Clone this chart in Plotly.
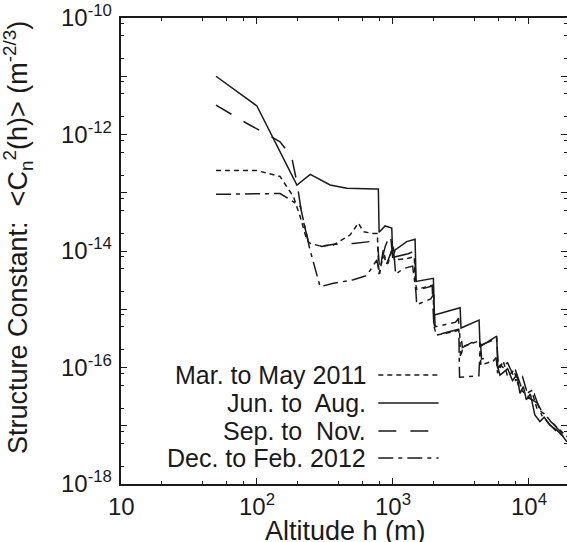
import math
import plotly.graph_objects as go

# ---------------- data ----------------
# Jun. to Aug. (solid)
x_jun = [50, 100, 197, 247, 346, 459, 741, 783, 793, 878, 983, 1000, 1040, 1267, 1459, 1484,
         1990, 2024, 3128, 3179, 4314, 4387, 5821, 5916, 6150, 7000, 7600, 8200, 8630, 9140,
         9600, 10300, 11100, 12100, 13000, 14300, 16000, 17500, 19100]
y_jun = [1.0e-11, 3.1e-12, 1.36e-13, 2.07e-13, 1.36e-13, 1.19e-13, 1.16e-13, 1.16e-13, 2.1e-14,
         2.69e-14, 2.48e-14, 7.6e-15, 1.04e-14, 1.45e-14, 1.59e-14, 3.0e-15, 3.4e-15, 8.0e-16,
         1.06e-15, 4.76e-16, 6.53e-16, 2.29e-16, 3.47e-16, 1.02e-16, 7.4e-17, 9.5e-17, 6.0e-17,
         7.5e-17, 3.6e-17, 4.7e-17, 2.8e-17, 3.5e-17, 1.53e-17, 1.18e-17, 1.4e-17, 1.03e-17,
         8.5e-18, 7.0e-18, 5.3e-18]

# Mar. to May 2011 (short dash)
x_mar = [50, 100, 148, 186, 208, 233, 247, 292, 366, 485, 558, 608, 720, 770, 790, 850, 920,
         1000, 1030, 1300, 1440, 1460, 1500, 1700, 1980, 2010, 2100, 2900, 3100, 3150, 3300,
         4200, 4350, 4450, 5500, 5800, 5900, 6500, 7000, 7800, 8500, 9500, 10500, 11500, 13000,
         14500, 16500, 19100]
y_mar = [2.4e-13, 2.4e-13, 1.9e-13, 8.5e-14, 3.9e-14, 1.55e-14, 1.35e-14, 1.22e-14, 1.27e-14,
         1.88e-14, 3.03e-14, 2.14e-14, 2.0e-14, 2.0e-14, 4.0e-15, 8.0e-15, 6.0e-15, 1.2e-14,
         7.0e-15, 7.5e-15, 8.0e-15, 3.0e-15, 2.2e-15, 2.4e-15, 2.6e-15, 5.0e-16, 3.6e-16,
         4.2e-16, 4.5e-16, 1.5e-16, 2.3e-16, 2.8e-16, 2.9e-16, 1.1e-16, 1.3e-16, 1.5e-16,
         8.0e-17, 1.3e-16, 7.0e-17, 9.0e-17, 4.5e-17, 3.5e-17, 4.0e-17, 2.0e-17, 1.6e-17,
         1.2e-17, 9.0e-18, 6.5e-18]

# Sep. to Nov. (long dash)
x_sep = [50, 84, 115, 148, 180, 197, 215, 240, 300, 366, 513, 720, 770, 800, 880, 960, 1010,
         1050, 1300, 1450, 1480, 1600, 1950, 2000, 2100, 3000, 3150, 3250, 4200, 4400, 4500,
         5700, 5900, 6200, 7200, 8000, 9000, 10000, 11500, 13000, 15000, 17000, 19100]
y_sep = [3.2e-12, 1.56e-12, 1.05e-12, 7.5e-13, 4.2e-13, 1.5e-13, 4.0e-14, 1.4e-14, 1.2e-14,
         1.3e-14, 1.35e-14, 1.5e-14, 1.5e-14, 5.0e-15, 1.2e-14, 2.0e-14, 6.0e-15, 8.0e-15,
         9.0e-15, 1.0e-14, 2.5e-15, 2.2e-15, 2.5e-15, 6.0e-16, 3.6e-16, 4.5e-16, 4.6e-16,
         2.2e-16, 3.0e-16, 3.2e-16, 1.4e-16, 1.6e-16, 1.0e-16, 1.1e-16, 8.0e-17, 9.0e-17,
         4.0e-17, 3.0e-17, 2.5e-17, 1.5e-17, 1.1e-17, 8.0e-18, 6.0e-18]

# Dec. to Feb. 2012 (dash-dot)
x_dec = [50, 148, 186, 209, 246, 292, 366, 513, 644, 763, 800, 850, 900, 1010, 1050, 1200,
         1400, 1480, 1500, 1900, 2000, 2050, 2900, 3050, 3100, 4000, 4300, 4400, 5600, 5800,
         6000, 7000, 8000, 9000, 10000, 11000, 12500, 14000, 16000, 19100]
y_dec = [9.4e-14, 9.7e-14, 7.0e-14, 5.75e-14, 1.04e-14, 2.44e-15, 2.8e-15, 3.2e-15, 3.8e-15,
         7.0e-15, 4.0e-15, 1.04e-14, 6.0e-15, 1.19e-14, 4.0e-15, 5.0e-15, 5.5e-15, 2.0e-15,
         1.2e-15, 1.5e-15, 1.8e-15, 5.0e-16, 6.0e-16, 7.0e-16, 6.8e-17, 7.0e-17, 7.2e-17,
         2.4e-16, 3.0e-16, 3.2e-16, 1.0e-16, 1.2e-16, 6.0e-17, 7.0e-17, 3.0e-17, 3.5e-17,
         1.5e-17, 1.1e-17, 8.0e-18, 6.0e-18]

series_names = ["Mar. to May 2011", "Jun. to  Aug.", "Sep. to  Nov.", "Dec. to Feb. 2012"]
series_x = [x_mar, x_jun, x_sep, x_dec]
series_y = [y_mar, y_jun, y_sep, y_dec]
series_dash = ["5px,4px", "solid", "18px,14px", "15px,5px,4px,5px"]

x_tick_vals = [10, 100, 1000, 10000]
x_tick_text = ["10", "10<sup>2</sup>", "10<sup>3</sup>", "10<sup>4</sup>"]
y_label_vals = [1e-18, 1e-16, 1e-14, 1e-12, 1e-10]
y_label_text = ["10<sup>-18</sup>", "10<sup>-16</sup>", "10<sup>-14</sup>",
                "10<sup>-12</sup>", "10<sup>-10</sup>"]
y_major_vals = [1e-18, 1e-17, 1e-16, 1e-15, 1e-14, 1e-13, 1e-12, 1e-11, 1e-10]

x_title = "Altitude h (m)"
y_title = "Structure Constant:  &lt;C<sub>n</sub><sup>2</sup>(h)&gt; (m<sup>-2/3</sup>)"

# ---------------- figure ----------------
FONT = "Liberation Sans, Arial, sans-serif"
INK = "#1a1a1a"

fig = go.Figure()
for name, xs, ys, dash in zip(series_names, series_x, series_y, series_dash):
    fig.add_trace(go.Scatter(x=xs, y=ys, mode="lines", name=name,
                             line=dict(color=INK, width=1.5, dash=dash),
                             showlegend=False))

x_minor = [m * 10 ** e for e in range(1, 5) for m in (2, 4, 6, 8)]
y_minor = [m * 10.0 ** e for e in range(-18, -10) for m in (2, 5, 8)]

fig.update_xaxes(type="log", range=[1, 4.282], automargin=False,
                 tickmode="array", tickvals=x_tick_vals, showticklabels=False,
                 ticks="inside", ticklen=6, tickwidth=1.2, tickcolor=INK,
                 minor=dict(tickmode="array", tickvals=x_minor, ticks="inside",
                            ticklen=3, tickwidth=1.2, tickcolor=INK),
                 showline=True, linecolor=INK, linewidth=1.8, mirror="ticks",
                 showgrid=False, zeroline=False)
fig.update_yaxes(type="log", range=[-18, -10], automargin=False,
                 tickmode="array", tickvals=y_major_vals, showticklabels=False,
                 ticks="inside", ticklen=6, tickwidth=1.2, tickcolor=INK,
                 minor=dict(tickmode="array", tickvals=y_minor, ticks="inside",
                            ticklen=3, tickwidth=1.2, tickcolor=INK),
                 showline=True, linecolor=INK, linewidth=1.8, mirror="ticks",
                 showgrid=False, zeroline=False)

TICKFONT = dict(family=FONT, size=24, color=INK)
for v, t in zip(x_tick_vals, x_tick_text):
    fig.add_annotation(xref="x", yref="paper", x=math.log10(v), y=0, text=t,
                       showarrow=False, xanchor="center", yanchor="bottom",
                       yshift=-38, font=TICKFONT)
for v, t in zip(y_label_vals, y_label_text):
    fig.add_annotation(xref="paper", yref="y", x=0, y=math.log10(v), text=t,
                       showarrow=False, xanchor="right", yanchor="bottom",
                       xshift=-7, yshift=-15, font=TICKFONT)

fig.add_annotation(xref="paper", yref="paper", x=0.504, y=-0.101, text=x_title,
                   showarrow=False, xanchor="center", yanchor="middle",
                   font=dict(family=FONT, size=27, color=INK))
fig.add_annotation(xref="paper", yref="paper", x=-0.231, y=0.53, text=y_title,
                   showarrow=False, xanchor="center", yanchor="middle", textangle=-90,
                   font=dict(family=FONT, size=27, color=INK))

# custom legend: right-aligned text with line sample to its right
leg_rows_y = [0.234, 0.174, 0.114, 0.056]
for name, dash, yy in zip(series_names, series_dash, leg_rows_y):
    fig.add_annotation(xref="paper", yref="paper", x=0.554, y=yy, text=name,
                       showarrow=False, xanchor="right", yanchor="middle",
                       font=dict(family=FONT, size=25, color=INK))
    fig.add_shape(type="line", xref="paper", yref="paper", x0=0.577, x1=0.712, y0=yy, y1=yy,
                  line=dict(color=INK, width=1.5, dash=dash))

fig.update_layout(width=567, height=542, margin=dict(l=121, r=0, t=18, b=58),
                  paper_bgcolor="white", plot_bgcolor="white", template="none",
                  font=dict(family=FONT, color=INK))
fig.write_html("out.html", config={"displayModeBar": False},
               post_script="document.body.style.margin='0';document.body.style.overflow='hidden';")
